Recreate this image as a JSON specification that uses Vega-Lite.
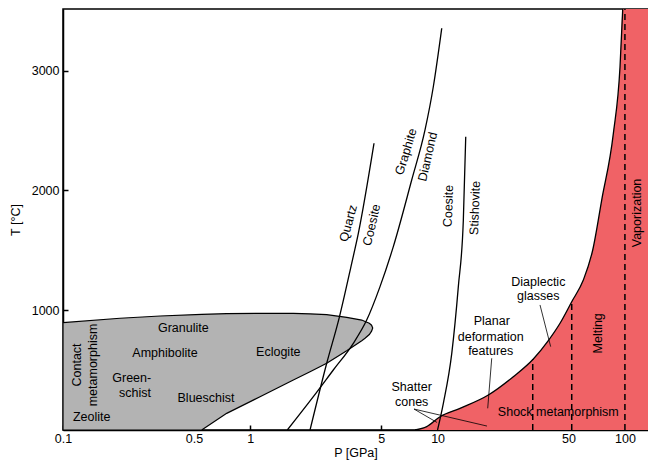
{
  "$schema": "https://vega.github.io/schema/vega-lite/v6.json",
  "width": 585,
  "height": 421,
  "autosize": {"type": "none"},
  "padding": {"left": 63, "top": 9, "right": 0, "bottom": 33},
  "background": "white",
  "config": {
    "view": {"stroke": "black", "strokeWidth": 1.5},
    "font": "Liberation Sans",
    "axis": {
      "domainColor": "black", "domainWidth": 1.5,
      "tickColor": "black", "tickWidth": 1.5, "tickSize": -5,
      "labelColor": "black", "labelFont": "Liberation Sans", "labelFontSize": 12.5,
      "titleFont": "Liberation Sans", "titleFontSize": 12.5, "titleFontWeight": "normal", "titleColor": "black",
      "grid": false
    },
    "axisX": {"labelPadding": 7, "titlePadding": 2, "labelFlush": false},
    "axisY": {"labelPadding": 9, "titlePadding": 9},
    "text": {"font": "Liberation Sans", "fontSize": 12.5, "color": "black"}
  },
  "datasets": {
    "meta": [
      {"P": 0.1, "Ttop": 896, "Tbot": 0},
      {"P": 0.2015, "Ttop": 933, "Tbot": 0},
      {"P": 0.33, "Ttop": 952, "Tbot": 0},
      {"P": 0.55, "Ttop": 966, "Tbot": 0},
      {"P": 0.748, "Ttop": 971, "Tbot": 139},
      {"P": 1.127, "Ttop": 974, "Tbot": 278},
      {"P": 1.697, "Ttop": 973, "Tbot": 418},
      {"P": 2.084, "Ttop": 970, "Tbot": 486},
      {"P": 2.558, "Ttop": 963, "Tbot": 557},
      {"P": 3.271, "Ttop": 941, "Tbot": 661},
      {"P": 3.935, "Ttop": 918, "Tbot": 746},
      {"P": 4.097, "Ttop": 906, "Tbot": 766},
      {"P": 4.319, "Ttop": 891, "Tbot": 797},
      {"P": 4.44, "Ttop": 875, "Tbot": 825},
      {"P": 4.503, "Ttop": 852, "Tbot": 852}
    ],
    "shock": [
      {"P": 7.577, "T": 0},
      {"P": 8.746, "T": 28},
      {"P": 10.30, "T": 111},
      {"P": 13.17, "T": 181},
      {"P": 18.65, "T": 292},
      {"P": 25.36, "T": 445},
      {"P": 32.44, "T": 593},
      {"P": 38.99, "T": 746},
      {"P": 45.03, "T": 891},
      {"P": 52.00, "T": 1071},
      {"P": 59.97, "T": 1252},
      {"P": 67.31, "T": 1503},
      {"P": 75.17, "T": 1920},
      {"P": 86.75, "T": 2477},
      {"P": 94.15, "T": 3033},
      {"P": 97.34, "T": 3515},
      {"P": 132.8, "T": 3515}
    ],
    "lines": [
      {"id": "quartz", "P": 2.084, "T": 0},
      {"id": "quartz", "P": 2.558, "T": 557},
      {"id": "quartz", "P": 2.987, "T": 941},
      {"id": "quartz", "P": 3.478, "T": 1392},
      {"id": "quartz", "P": 3.773, "T": 1642},
      {"id": "quartz", "P": 4.575, "T": 2394},
      {"id": "graphite", "P": 1.576, "T": 0},
      {"id": "graphite", "P": 2.170, "T": 278},
      {"id": "graphite", "P": 2.774, "T": 501},
      {"id": "graphite", "P": 3.548, "T": 724},
      {"id": "graphite", "P": 4.182, "T": 918},
      {"id": "graphite", "P": 4.926, "T": 1197},
      {"id": "graphite", "P": 5.801, "T": 1531},
      {"id": "graphite", "P": 7.272, "T": 2087},
      {"id": "graphite", "P": 8.565, "T": 2505},
      {"id": "graphite", "P": 9.485, "T": 2866},
      {"id": "graphite", "P": 10.52, "T": 3354},
      {"id": "stishovite", "P": 9.99, "T": 0},
      {"id": "stishovite", "P": 10.73, "T": 223},
      {"id": "stishovite", "P": 11.90, "T": 640},
      {"id": "stishovite", "P": 12.90, "T": 1197},
      {"id": "stishovite", "P": 13.72, "T": 1753},
      {"id": "stishovite", "P": 14.13, "T": 2449},
      {"id": "shock", "P": 7.577, "T": 0},
      {"id": "shock", "P": 8.746, "T": 28},
      {"id": "shock", "P": 10.30, "T": 111},
      {"id": "shock", "P": 13.17, "T": 181},
      {"id": "shock", "P": 18.65, "T": 292},
      {"id": "shock", "P": 25.36, "T": 445},
      {"id": "shock", "P": 32.44, "T": 593},
      {"id": "shock", "P": 38.99, "T": 746},
      {"id": "shock", "P": 45.03, "T": 891},
      {"id": "shock", "P": 52.00, "T": 1071},
      {"id": "shock", "P": 59.97, "T": 1252},
      {"id": "shock", "P": 67.31, "T": 1503},
      {"id": "shock", "P": 75.17, "T": 1920},
      {"id": "shock", "P": 86.75, "T": 2477},
      {"id": "shock", "P": 94.15, "T": 3033},
      {"id": "shock", "P": 97.34, "T": 3515}
    ],
    "dashes": [
      {"P": 32.2, "T": 0, "Tend": 593},
      {"P": 52.0, "T": 0, "Tend": 1071},
      {"P": 100.0, "T": 0, "Tend": 3515}
    ],
    "leaders": [
      {"P": 35.21, "T": 1044, "P2": 40.14, "T2": 696},
      {"P": 19.45, "T": 599, "P2": 18.51, "T2": 181},
      {"P": 7.48, "T": 175, "P2": 9.93, "T2": 63},
      {"P": 7.48, "T": 175, "P2": 18.35, "T2": 33}
    ],
    "labels_h": [
      {"label": "Granulite", "P": 0.4388, "T": 849},
      {"label": "Amphibolite", "P": 0.3504, "T": 640},
      {"label": "Eclogite", "P": 1.411, "T": 654},
      {"label": "Green-", "P": 0.2327, "T": 432},
      {"label": "schist", "P": 0.2424, "T": 311},
      {"label": "Blueschist", "P": 0.5801, "T": 265},
      {"label": "Zeolite", "P": 0.1423, "T": 106},
      {"label": "Diaplectic", "P": 34.48, "T": 1238},
      {"label": "glasses", "P": 34.48, "T": 1119},
      {"label": "Planar", "P": 19.45, "T": 913},
      {"label": "deformation", "P": 19.21, "T": 779},
      {"label": "features", "P": 19.21, "T": 660},
      {"label": "Shatter", "P": 7.27, "T": 362},
      {"label": "cones", "P": 7.27, "T": 231},
      {"label": "Shock metamorphism", "P": 44.09, "T": 148}
    ],
    "labels_v": [
      {"label": "Contact", "P": 0.1183, "T": 543},
      {"label": "metamorphism", "P": 0.1451, "T": 543},
      {"label": "Melting", "P": 72.1, "T": 807},
      {"label": "Vaporization", "P": 116.1, "T": 1812}
    ],
    "labels_v88": [
      {"label": "Coesite", "P": 11.41, "T": 1870},
      {"label": "Stishovite", "P": 15.84, "T": 1854}
    ],
    "labels_q": [
      {"label": "Quartz", "P": 3.336, "T": 1726}
    ],
    "labels_c": [
      {"label": "Coesite", "P": 4.448, "T": 1712},
      {"label": "Diamond", "P": 8.855, "T": 2282}
    ],
    "labels_g": [
      {"label": "Graphite", "P": 6.783, "T": 2324}
    ]
  },
  "layer": [
    {
      "data": {"name": "meta"},
      "mark": {"type": "area", "interpolate": "linear", "fill": "#b3b3b3", "stroke": "black", "strokeWidth": 1.2, "clip": true},
      "encoding": {
        "x": {"field": "P", "type": "quantitative", "title": "P [GPa]",
              "scale": {"type": "log", "domain": [0.1, 132.8], "nice": false},
              "axis": {"values": [0.1, 0.5, 1, 5, 10, 50, 100], "labelExpr": "datum.value"}},
        "y": {"field": "Ttop", "type": "quantitative", "title": "T [°C]",
              "scale": {"domain": [0, 3515], "nice": false, "zero": false},
              "axis": {"values": [1000, 2000, 3000], "format": "d"}},
        "y2": {"field": "Tbot"}
      }
    },
    {
      "data": {"name": "shock"},
      "mark": {"type": "area", "interpolate": "monotone", "fill": "#f06266", "clip": true},
      "encoding": {
        "x": {"field": "P", "type": "quantitative", "title": "P [GPa]", "scale": {"type": "log", "domain": [0.1, 132.8], "nice": false}},
        "y": {"field": "T", "type": "quantitative", "title": "T [°C]", "scale": {"domain": [0, 3515], "nice": false, "zero": false}},
        "y2": {"datum": 0}
      }
    },
    {
      "data": {"name": "lines"},
      "mark": {"type": "line", "interpolate": "monotone", "color": "black", "strokeWidth": 1.3, "clip": true},
      "encoding": {
        "x": {"field": "P", "type": "quantitative", "title": "P [GPa]", "scale": {"type": "log", "domain": [0.1, 132.8], "nice": false}},
        "y": {"field": "T", "type": "quantitative", "title": "T [°C]", "scale": {"domain": [0, 3515], "nice": false, "zero": false}},
        "detail": {"field": "id"}
      }
    },
    {
      "data": {"name": "dashes"},
      "mark": {"type": "rule", "color": "black", "strokeWidth": 1.5, "strokeDash": [6, 4], "clip": true},
      "encoding": {
        "x": {"field": "P", "type": "quantitative", "title": "P [GPa]", "scale": {"type": "log", "domain": [0.1, 132.8], "nice": false}},
        "y": {"field": "T", "type": "quantitative", "title": "T [°C]", "scale": {"domain": [0, 3515], "nice": false, "zero": false}},
        "y2": {"field": "Tend"}
      }
    },
    {
      "data": {"name": "leaders"},
      "mark": {"type": "rule", "color": "black", "strokeWidth": 0.8},
      "encoding": {
        "x": {"field": "P", "type": "quantitative", "title": "P [GPa]", "scale": {"type": "log", "domain": [0.1, 132.8], "nice": false}},
        "y": {"field": "T", "type": "quantitative", "title": "T [°C]", "scale": {"domain": [0, 3515], "nice": false, "zero": false}},
        "x2": {"field": "P2"},
        "y2": {"field": "T2"}
      }
    },
    {
      "data": {"name": "labels_h"},
      "mark": {"type": "text", "align": "center", "baseline": "middle"},
      "encoding": {
        "x": {"field": "P", "type": "quantitative", "title": "P [GPa]", "scale": {"type": "log", "domain": [0.1, 132.8], "nice": false}},
        "y": {"field": "T", "type": "quantitative", "title": "T [°C]", "scale": {"domain": [0, 3515], "nice": false, "zero": false}},
        "text": {"field": "label"}
      }
    },
    {
      "data": {"name": "labels_v"},
      "mark": {"type": "text", "align": "center", "baseline": "middle", "angle": 270},
      "encoding": {
        "x": {"field": "P", "type": "quantitative", "title": "P [GPa]", "scale": {"type": "log", "domain": [0.1, 132.8], "nice": false}},
        "y": {"field": "T", "type": "quantitative", "title": "T [°C]", "scale": {"domain": [0, 3515], "nice": false, "zero": false}},
        "text": {"field": "label"}
      }
    },
    {
      "data": {"name": "labels_v88"},
      "mark": {"type": "text", "align": "center", "baseline": "middle", "angle": 272},
      "encoding": {
        "x": {"field": "P", "type": "quantitative", "title": "P [GPa]", "scale": {"type": "log", "domain": [0.1, 132.8], "nice": false}},
        "y": {"field": "T", "type": "quantitative", "title": "T [°C]", "scale": {"domain": [0, 3515], "nice": false, "zero": false}},
        "text": {"field": "label"}
      }
    },
    {
      "data": {"name": "labels_q"},
      "mark": {"type": "text", "align": "center", "baseline": "middle", "angle": 285},
      "encoding": {
        "x": {"field": "P", "type": "quantitative", "title": "P [GPa]", "scale": {"type": "log", "domain": [0.1, 132.8], "nice": false}},
        "y": {"field": "T", "type": "quantitative", "title": "T [°C]", "scale": {"domain": [0, 3515], "nice": false, "zero": false}},
        "text": {"field": "label"}
      }
    },
    {
      "data": {"name": "labels_c"},
      "mark": {"type": "text", "align": "center", "baseline": "middle", "angle": 283},
      "encoding": {
        "x": {"field": "P", "type": "quantitative", "title": "P [GPa]", "scale": {"type": "log", "domain": [0.1, 132.8], "nice": false}},
        "y": {"field": "T", "type": "quantitative", "title": "T [°C]", "scale": {"domain": [0, 3515], "nice": false, "zero": false}},
        "text": {"field": "label"}
      }
    },
    {
      "data": {"name": "labels_g"},
      "mark": {"type": "text", "align": "center", "baseline": "middle", "angle": 287},
      "encoding": {
        "x": {"field": "P", "type": "quantitative", "title": "P [GPa]", "scale": {"type": "log", "domain": [0.1, 132.8], "nice": false}},
        "y": {"field": "T", "type": "quantitative", "title": "T [°C]", "scale": {"domain": [0, 3515], "nice": false, "zero": false}},
        "text": {"field": "label"}
      }
    }
  ]
}
